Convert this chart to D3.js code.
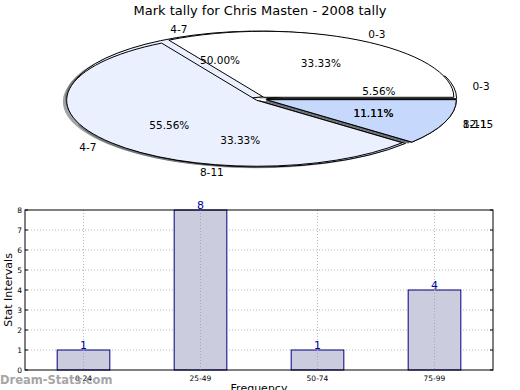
<!DOCTYPE html>
<html><head><meta charset="utf-8">
<script src="https://cdn.jsdelivr.net/npm/d3@7"></script>
<style>body{margin:0;background:#fff}svg{display:block;font-family:"DejaVu Sans",sans-serif}</style>
</head><body><svg id="c" width="520" height="390"></svg>
<script>
const title = "Mark tally for Chris Masten - 2008 tally";
// pie drawn first (underneath)
const pieLabelsA = ["0-3","4-7","8-11","12-15"];
const pieValuesA = [5.56, 50.00, 33.33, 11.11];
// pie drawn second (on top)
const pieLabelsB = ["0-3","4-7","8-11"];
const pieValuesB = [33.33, 55.56, 11.11];
const pieColors = ["#ffffff","#eaf0fe","#c6d9fd","#c6d9fd"];

const barCategories = ["0-24","25-49","50-74","75-99"];
const barValues = [1, 8, 1, 4];
const yTicks = [0,1,2,3,4,5,6,7,8];

const svg = d3.select("#c");
svg.append("text").attr("x",260).attr("y",15).attr("text-anchor","middle")
  .attr("font-size","13px").attr("fill","#000").text(title);

// ---- pie ----
const cx = 261, cy = 99, rx = 190, ry = 66, explode = 0.03;
const arc = d3.arc().innerRadius(0).outerRadius(1);
const pieGen = d3.pie().sort(null).value(d => d.v).startAngle(Math.PI/2).endAngle(Math.PI/2 - 2*Math.PI);
function prep(labels, vals){
  return pieGen(labels.map((l,i)=>({l, v: vals[i], c: pieColors[i]}))).map(d=>{
    const am = (d.startAngle + d.endAngle)/2;
    d.dx = Math.sin(am); d.dy = -Math.cos(am);
    d.ox = cx + explode*d.dx*rx; d.oy = cy + explode*d.dy*ry;
    return d;
  });
}
const pies = [prep(pieLabelsA, pieValuesA), prep(pieLabelsB, pieValuesB)];
const gPie = svg.append("g");
// shadows
pies.forEach(p => {
  gPie.selectAll(null).data(p).enter().append("path")
    .attr("d", arc)
    .attr("transform", d => `translate(${d.ox - 0.02*rx},${d.oy + 0.02*ry}) scale(${rx},${ry})`)
    .attr("fill", d => { const c = d3.rgb(d.data.c); return d3.rgb(c.r*0.3,c.g*0.3,c.b*0.3); })
    .attr("opacity", 0.5).attr("stroke","none");
});
// wedges
pies.forEach(p => {
  gPie.selectAll(null).data(p).enter().append("path")
    .attr("d", arc)
    .attr("transform", d => `translate(${d.ox},${d.oy}) scale(${rx},${ry})`)
    .attr("fill", d => d.data.c)
    .attr("stroke","#000").attr("stroke-width",1)
    .attr("stroke-linejoin","round")
    .attr("vector-effect","non-scaling-stroke");
});
// texts
pies.forEach(p => {
  p.forEach(d => {
    gPie.append("text")
      .attr("x", d.ox + 1.1*d.dx*rx).attr("y", d.oy + 1.1*d.dy*ry)
      .attr("dy","0.35em").attr("font-size","10.5px")
      .attr("text-anchor", d.dx > 0 ? "start" : "end")
      .text(d.data.l);
    gPie.append("text")
      .attr("x", d.ox + 0.6*d.dx*rx).attr("y", d.oy + 0.6*d.dy*ry)
      .attr("dy","0.35em").attr("font-size","10.5px")
      .attr("text-anchor","middle")
      .text(d.data.v.toFixed(2) + "%");
  });
});

// ---- bars ----
const L = 25, R = 493, T = 210, B = 370;
const x = d3.scaleBand().domain(barCategories).range([L,R]).paddingInner(0).paddingOuter(0);
const y = d3.scaleLinear().domain([0,8]).range([B,T]);
const g = svg.append("g");
// grid
g.selectAll(null).data(yTicks.slice(1,-1)).enter().append("line")
  .attr("x1",L).attr("x2",R).attr("y1",d=>y(d)).attr("y2",d=>y(d))
  .attr("stroke","#b8b8b8").attr("stroke-dasharray","1,2");
g.selectAll(null).data(barCategories).enter().append("line")
  .attr("x1",d=>x(d)+x.bandwidth()/2).attr("x2",d=>x(d)+x.bandwidth()/2)
  .attr("y1",T).attr("y2",B)
  .attr("stroke","#b8b8b8").attr("stroke-dasharray","1,2");
const bw = x.bandwidth()*0.45;
g.selectAll(null).data(barCategories).enter().append("rect")
  .attr("x",d=>x(d)+x.bandwidth()/2-bw/2).attr("width",bw)
  .attr("y",(d,i)=>y(barValues[i])).attr("height",(d,i)=>B-y(barValues[i]))
  .attr("fill","#ccccdf").attr("stroke","#000080").attr("stroke-width",1);
// redraw grid over bars (matplotlib grid above patches)
g.selectAll(null).data(barCategories).enter().append("line")
  .attr("x1",d=>x(d)+x.bandwidth()/2).attr("x2",d=>x(d)+x.bandwidth()/2)
  .attr("y1",(d,i)=>y(barValues[i])).attr("y2",B)
  .attr("stroke","#a8a8a8").attr("stroke-dasharray","1,2");
g.selectAll(null).data(barCategories).enter().append("text")
  .attr("x",d=>x(d)+x.bandwidth()/2).attr("y",(d,i)=>y(barValues[i])-1)
  .attr("text-anchor","middle").attr("font-size","11px").attr("fill","#0000a0")
  .text((d,i)=>barValues[i]);
// frame
g.append("rect").attr("x",L).attr("y",T).attr("width",R-L).attr("height",B-T)
  .attr("fill","none").attr("stroke","#000").attr("stroke-width",1);
// y axis ticks (inside) and labels
g.selectAll(null).data(yTicks).enter().append("line")
  .attr("x1",L).attr("x2",L+3).attr("y1",d=>y(d)).attr("y2",d=>y(d)).attr("stroke","#000");
g.selectAll(null).data(yTicks).enter().append("line")
  .attr("x1",R).attr("x2",R-3).attr("y1",d=>y(d)).attr("y2",d=>y(d)).attr("stroke","#000");
g.selectAll(null).data(yTicks).enter().append("text")
  .attr("x",L-3).attr("y",d=>y(d)).attr("dy","0.35em").attr("text-anchor","end")
  .attr("font-size","7.5px").text(d=>d);
g.selectAll(null).data(barCategories).enter().append("text")
  .attr("x",d=>x(d)+x.bandwidth()/2).attr("y",B+11).attr("text-anchor","middle")
  .attr("font-size","7.5px").text(d=>d);
svg.append("text").attr("transform","translate(12,290) rotate(-90)")
  .attr("text-anchor","middle").attr("font-size","11px").text("Stat Intervals");
svg.append("text").attr("x",259).attr("y",392).attr("text-anchor","middle")
  .attr("font-size","11px").text("Frequency");
svg.append("text").attr("x",0).attr("y",384).attr("font-size","11.5px").attr("font-weight","bold")
  .attr("fill","#909090").attr("opacity",0.8).text("Dream-Stats.com");
</script></body></html>
